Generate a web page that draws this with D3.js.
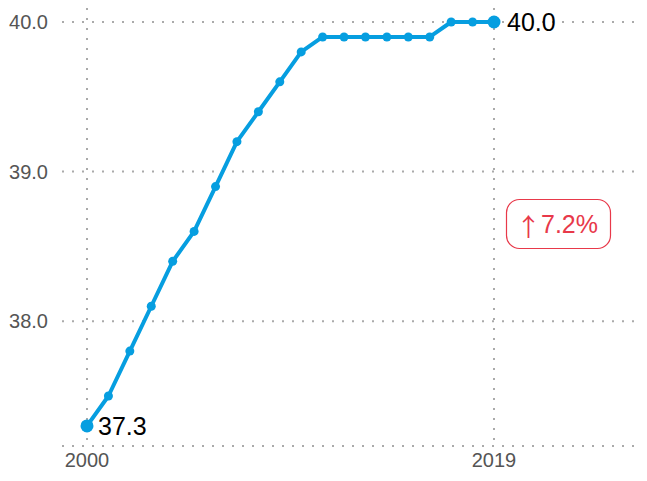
<!DOCTYPE html>
<html>
<head>
<meta charset="utf-8">
<script src="https://cdn.jsdelivr.net/npm/d3@7"></script>
<style>
  body { margin: 0; background: #fff; }
  svg { font-family: "Liberation Sans", Arial, sans-serif; }
</style>
</head>
<body>
<div id="chart"></div>
<script>
"use strict";

let years = [2000, 2001, 2002, 2003, 2004, 2005, 2006, 2007, 2008, 2009,
             2010, 2011, 2012, 2013, 2014, 2015, 2016, 2017, 2018, 2019];
let values = [37.3, 37.5, 37.8, 38.1, 38.4, 38.6, 38.9, 39.2, 39.4, 39.6,
              39.8, 39.9, 39.9, 39.9, 39.9, 39.9, 39.9, 40.0, 40.0, 40.0];
let yTicks = [38.0, 39.0, 40.0];
let xTicks = [2000, 2019];
let changeArrow = "↑";
let changeLabel = "7.2%";

let width = 647, height = 481;
let blue = "#069ee0";
let red = "#e8394a";
let gridColor = "#aaa";

let svg = d3.select("#chart").append("svg")
    .attr("width", width)
    .attr("height", height);

let x = d3.scaleLinear().domain([2000, 2019]).range([87, 494]);
let y = d3.scaleLinear().domain([37, 40]).range([470.8, 22]);
let baseY = 446;

// horizontal grid
svg.selectAll(".hgrid")
    .data(yTicks)
    .join("line")
    .attr("x1", 62).attr("x2", 642)
    .attr("y1", d => y(d)).attr("y2", d => y(d))
    .attr("stroke", gridColor)
    .attr("stroke-width", 2)
    .attr("stroke-dasharray", "2,8");

svg.append("line")
    .attr("x1", 62).attr("x2", 642)
    .attr("y1", baseY).attr("y2", baseY)
    .attr("stroke", gridColor)
    .attr("stroke-width", 2)
    .attr("stroke-dasharray", "2,8");

// vertical grid
svg.selectAll(".vgrid")
    .data(xTicks)
    .join("line")
    .attr("x1", d => x(d)).attr("x2", d => x(d))
    .attr("y1", 8).attr("y2", baseY)
    .attr("stroke", gridColor)
    .attr("stroke-width", 2)
    .attr("stroke-dasharray", "2,8");

// y labels
svg.selectAll(".ylab")
    .data(yTicks)
    .join("text")
    .attr("x", 48)
    .attr("y", d => y(d) + 7)
    .attr("text-anchor", "end")
    .attr("font-size", 20)
    .attr("fill", "#555")
    .text(d => d.toFixed(1));

// x labels
svg.selectAll(".xlab")
    .data(xTicks)
    .join("text")
    .attr("x", d => x(d))
    .attr("y", 467)
    .attr("text-anchor", "middle")
    .attr("font-size", 20)
    .attr("fill", "#555")
    .text(d => d);

// line
let line = d3.line()
    .x((d, i) => x(years[i]))
    .y(d => y(d));

svg.append("path")
    .datum(values)
    .attr("d", line)
    .attr("fill", "none")
    .attr("stroke", blue)
    .attr("stroke-width", 4)
    .attr("stroke-linejoin", "round");

svg.selectAll(".pt")
    .data(values)
    .join("circle")
    .attr("cx", (d, i) => x(years[i]))
    .attr("cy", d => y(d))
    .attr("r", (d, i) => (i === 0 || i === values.length - 1) ? 6.5 : 4.5)
    .attr("fill", blue);

// end labels
let last = values.length - 1;
svg.append("text")
    .attr("x", x(years[0]) + 11)
    .attr("y", y(values[0]) + 9)
    .attr("font-size", 25)
    .attr("fill", "#000")
    .text(values[0].toFixed(1));

svg.append("text")
    .attr("x", x(years[last]) + 13)
    .attr("y", y(values[last]) + 9)
    .attr("font-size", 25)
    .attr("fill", "#000")
    .text(values[last].toFixed(1));

// change badge
let badge = svg.append("g");
badge.append("rect")
    .attr("x", 506.5).attr("y", 199.5)
    .attr("width", 104).attr("height", 49)
    .attr("rx", 13)
    .attr("fill", "#fff")
    .attr("stroke", red)
    .attr("stroke-width", 1.2);
let bt = badge.append("text")
    .attr("x", 516).attr("y", 233)
    .attr("font-size", 25)
    .attr("fill", red);
bt.append("tspan")
    .attr("font-family", "Noto Sans CJK SC")
    .attr("font-size", 25)
    .attr("dy", 3)
    .text(changeArrow);
bt.append("tspan")
    .attr("dx", 0)
    .attr("dy", -3)
    .text(changeLabel);
</script>
</body>
</html>
